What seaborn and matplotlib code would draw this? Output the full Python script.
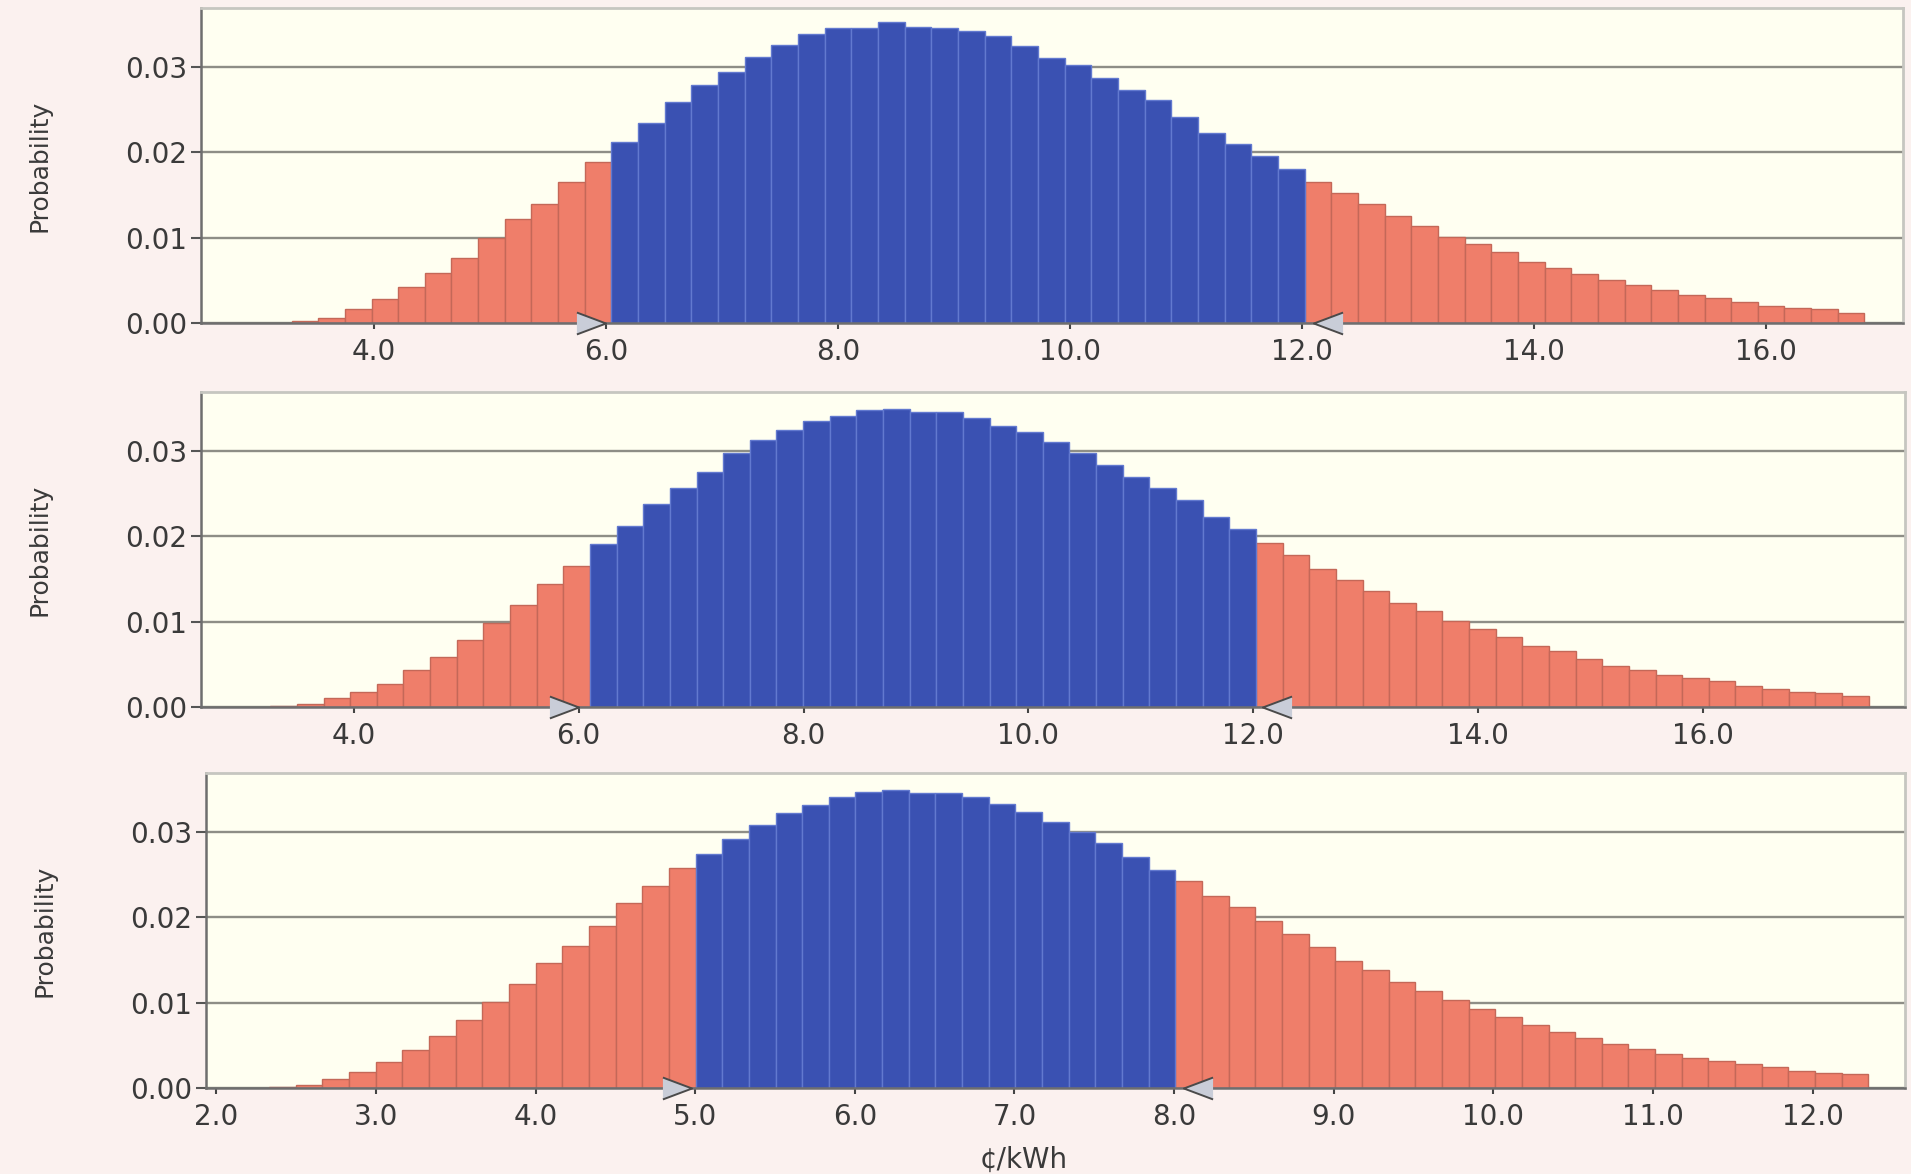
import matplotlib
matplotlib.use("Agg")
import matplotlib.pyplot as plt
import matplotlib.transforms as mtransforms
import numpy as np
import pandas as pd
import seaborn as sns

# Forecast histograms (probability per bin).
# Each panel: first bin edge, bin width, bin heights, certainty range (lo, hi).
p1_start, p1_width = 3.29, 0.2298
p1_probs = [0.0002, 0.0006, 0.0016, 0.0028, 0.0042, 0.0059, 0.0076, 0.0100, 0.0122, 0.0139, 0.0165, 0.0189,
            0.0212, 0.0234, 0.0259, 0.0279, 0.0294, 0.0312, 0.0326, 0.0339, 0.0346, 0.0346, 0.0352, 0.0347,
            0.0346, 0.0342, 0.0336, 0.0324, 0.0310, 0.0302, 0.0287, 0.0273, 0.0261, 0.0241, 0.0222, 0.0210,
            0.0196, 0.0180,
            0.0165, 0.0152, 0.0139, 0.0125, 0.0114, 0.0101, 0.0092, 0.0083, 0.0072, 0.0064, 0.0057, 0.0050,
            0.0044, 0.0039, 0.0033, 0.0029, 0.0025, 0.0020, 0.0018, 0.0016, 0.0012]
p1_range = (6.0, 12.1)
p1_xlim = (2.51, 17.18)
p1_xticks = [4.0, 6.0, 8.0, 10.0, 12.0, 14.0, 16.0]

p2_start, p2_width = 3.256, 0.237
p2_probs = [0.0001, 0.0004, 0.0010, 0.0018, 0.0027, 0.0043, 0.0059, 0.0078, 0.0098, 0.0120, 0.0144, 0.0165,
            0.0191, 0.0212, 0.0238, 0.0257, 0.0275, 0.0297, 0.0313, 0.0324, 0.0335, 0.0341, 0.0348, 0.0349,
            0.0345, 0.0345, 0.0338, 0.0329, 0.0322, 0.0311, 0.0297, 0.0284, 0.0269, 0.0256, 0.0243, 0.0223,
            0.0209,
            0.0192, 0.0178, 0.0162, 0.0149, 0.0136, 0.0122, 0.0112, 0.0101, 0.0091, 0.0082, 0.0072, 0.0065,
            0.0056, 0.0048, 0.0043, 0.0038, 0.0034, 0.0030, 0.0025, 0.0021, 0.0018, 0.0016, 0.0013]
p2_range = (6.0, 12.08)
p2_xlim = (2.64, 17.8)
p2_xticks = [4.0, 6.0, 8.0, 10.0, 12.0, 14.0, 16.0]

p3_start, p3_width = 2.33, 0.167
p3_probs = [0.0001, 0.0003, 0.0010, 0.0019, 0.0030, 0.0044, 0.0061, 0.0080, 0.0101, 0.0122, 0.0146, 0.0166,
            0.0190, 0.0217, 0.0237, 0.0258,
            0.0274, 0.0292, 0.0308, 0.0322, 0.0332, 0.0341, 0.0347, 0.0349, 0.0346, 0.0345, 0.0341, 0.0333,
            0.0323, 0.0312, 0.0300, 0.0287, 0.0270, 0.0255,
            0.0242, 0.0225, 0.0212, 0.0196, 0.0180, 0.0165, 0.0149, 0.0138, 0.0124, 0.0113, 0.0103, 0.0092,
            0.0083, 0.0074, 0.0065, 0.0058, 0.0052, 0.0046, 0.0040, 0.0035, 0.0031, 0.0028, 0.0024, 0.0020,
            0.0018, 0.0016]
p3_range = (4.98, 8.06)
p3_xlim = (1.935, 12.58)
p3_xticks = [2.0, 3.0, 4.0, 5.0, 6.0, 7.0, 8.0, 9.0, 10.0, 11.0, 12.0]

y_ticks = [0.00, 0.01, 0.02, 0.03]
x_label = "¢/kWh"
y_label = "Probability"

SALMON, SALMON_EDGE = "#EF7E6A", "#C46858"
BLUE, BLUE_EDGE = "#3A51B2", "#6279CF"
FIG_BG = "#FBF1EF"
AX_BG = "#FFFFF1"
TEXT = "#3A3A3A"

sns.set_theme(style="white", rc={"figure.facecolor": FIG_BG, "axes.facecolor": AX_BG})
plt.rcParams["font.family"] = ["DejaVu Sans"]


def draw_panel(fig, ax, start, width, probs, cert, xlim, xticks):
    probs = np.asarray(probs)
    edges = start + width * np.arange(len(probs) + 1)
    centers = (edges[:-1] + edges[1:]) / 2
    inside = (centers >= cert[0]) & (centers <= cert[1])
    df = pd.DataFrame({"price": centers, "prob": probs,
                       "zone": np.where(inside, "certain", "outside")})

    for zone, fill, edge in [("outside", SALMON, SALMON_EDGE), ("certain", BLUE, BLUE_EDGE)]:
        sub = df[df["zone"] == zone]
        sns.histplot(data=sub, x="price", weights="prob", bins=list(edges), stat="count",
                     color=fill, edgecolor=edge, linewidth=1.0, alpha=1, ax=ax, zorder=2)

    ax.set_xlim(*xlim)
    ax.set_ylim(0, 0.0369)
    ax.set_xticks(xticks)
    ax.set_xticklabels([f"{t:.1f}" for t in xticks])
    ax.set_yticks(y_ticks)
    ax.set_yticklabels([f"{t:.2f}" for t in y_ticks])
    ax.yaxis.grid(True, color="#8E8E86", linewidth=1.7, zorder=0)
    ax.xaxis.grid(False)
    ax.set_axisbelow(True)
    ax.tick_params(axis="y", length=7, width=1.5, color="#555555", pad=3,
                   labelsize=20, labelcolor=TEXT, left=True)
    ax.tick_params(axis="x", length=4, width=1.5, color="#444444", pad=7,
                   labelsize=20, labelcolor=TEXT, bottom=True)
    for side in ["top", "right"]:
        ax.spines[side].set_color("#C6C6C0")
        ax.spines[side].set_linewidth(2)
    for side in ["left", "bottom"]:
        ax.spines[side].set_color("#6E6E6E")
        ax.spines[side].set_linewidth(1.8)
    ax.set_xlabel("")
    ax.set_ylabel(y_label, fontsize=18, color=TEXT)
    ax.yaxis.set_label_coords(-0.088, 0.5)

    # certainty range grabbers: tips sit on the range limits
    ms = 21
    right_tri = [(-1, -0.75), (1, 0), (-1, 0.75)]
    left_tri = [(1, -0.75), (-1, 0), (1, 0.75)]
    tr_lo = mtransforms.offset_copy(ax.transData, fig=fig, x=-ms / 2, y=0, units="points")
    tr_hi = mtransforms.offset_copy(ax.transData, fig=fig, x=ms / 2, y=0, units="points")
    ax.plot([cert[0]], [0], marker=right_tri, ms=ms, mfc="#C9CDD8", mec="#4A4A4A", mew=1.4,
            transform=tr_lo, clip_on=False, zorder=6, linestyle="none")
    ax.plot([cert[1]], [0], marker=left_tri, ms=ms, mfc="#C9CDD8", mec="#4A4A4A", mew=1.4,
            transform=tr_hi, clip_on=False, zorder=6, linestyle="none")


fig = plt.figure(figsize=(19.11, 11.74), dpi=100)
ax1 = fig.add_axes([0.1052, 0.7249, 0.8906, 0.2683])
ax2 = fig.add_axes([0.1052, 0.3978, 0.8917, 0.2683])
ax3 = fig.add_axes([0.1078, 0.0733, 0.8891, 0.2683])

draw_panel(fig, ax1, p1_start, p1_width, p1_probs, p1_range, p1_xlim, p1_xticks)
draw_panel(fig, ax2, p2_start, p2_width, p2_probs, p2_range, p2_xlim, p2_xticks)
draw_panel(fig, ax3, p3_start, p3_width, p3_probs, p3_range, p3_xlim, p3_xticks)

ax3.set_xlabel(x_label, fontsize=20, color=TEXT)
ax3.xaxis.set_label_coords(0.481, -0.185)

fig.savefig("out.png", dpi=100, facecolor=FIG_BG)
plt.close(fig)
